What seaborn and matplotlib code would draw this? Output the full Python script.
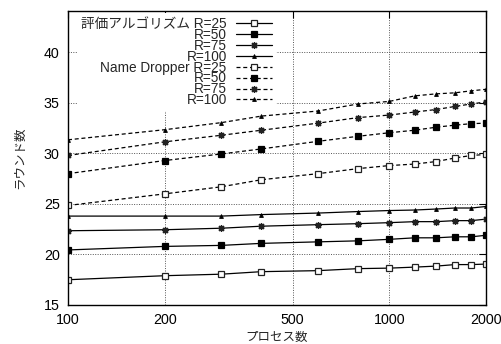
import numpy as np
import pandas as pd
import matplotlib
matplotlib.use("Agg")
import matplotlib.pyplot as plt
import seaborn as sns

processes = [100, 200, 300, 400, 600, 800, 1000, 1200, 1400, 1600, 1800, 2000]

eval_r25 = [17.5, 17.9, 18.05, 18.3, 18.4, 18.6, 18.65, 18.75, 18.85, 19.0, 19.0, 19.05]
eval_r50 = [20.45, 20.8, 20.9, 21.1, 21.25, 21.35, 21.5, 21.65, 21.65, 21.75, 21.75, 21.9]
eval_r75 = [22.35, 22.45, 22.6, 22.8, 22.95, 23.05, 23.15, 23.25, 23.25, 23.35, 23.35, 23.5]
eval_r100 = [23.8, 23.8, 23.8, 23.95, 24.1, 24.25, 24.35, 24.4, 24.5, 24.6, 24.6, 24.75]

nd_r25 = [24.85, 26.0, 26.7, 27.4, 28.0, 28.5, 28.8, 28.95, 29.2, 29.55, 29.8, 29.9]
nd_r50 = [28.0, 29.3, 29.95, 30.45, 31.2, 31.7, 32.05, 32.3, 32.6, 32.8, 32.95, 33.0]
nd_r75 = [29.8, 31.15, 31.8, 32.3, 33.0, 33.55, 33.8, 34.1, 34.35, 34.65, 34.9, 35.1]
nd_r100 = [31.35, 32.35, 33.05, 33.7, 34.2, 34.9, 35.15, 35.7, 35.9, 36.0, 36.2, 36.35]

series_labels = ["評価アルゴリズム R=25", "R=50", "R=75", "R=100",
                 "Name Dropper R=25", "R=50", "R=75", "R=100"]
series_values = [eval_r25, eval_r50, eval_r75, eval_r100,
                 nd_r25, nd_r50, nd_r75, nd_r100]

xticks = [100, 200, 500, 1000, 2000]
yticks = [15, 20, 25, 30, 35, 40]
xlabel = "プロセス数"
ylabel = "ラウンド数"

sns.set_theme(style="white")
plt.rcParams['font.family'] = ['Liberation Sans', 'Noto Sans CJK JP', 'DejaVu Sans']

fig = plt.figure(figsize=(5.01, 3.44), dpi=100)
ax = fig.add_axes([68 / 501, 1 - 305 / 344, (486 - 68) / 501, (305 - 11) / 344])

marker_styles = [
    dict(marker="s", markerfacecolor="white", markeredgecolor="#222222", markersize=4.8, markeredgewidth=0.9),
    dict(marker="s", markerfacecolor="black", markeredgecolor="black", markersize=4.6, markeredgewidth=0.9),
    dict(marker=(8, 2, 0), markerfacecolor="black", markeredgecolor="#222222", markersize=5, markeredgewidth=0.9),
    dict(marker="^", markerfacecolor="black", markeredgecolor="black", markersize=2.8, markeredgewidth=0.6),
]

handles = []
for i, (lab, vals) in enumerate(zip(series_labels, series_values)):
    df = pd.DataFrame({"x": processes, "y": vals})
    dashed = i >= 4
    sns.lineplot(data=df, x="x", y="y", ax=ax, color="black", linewidth=0.9,
                 legend=False, **marker_styles[i % 4])
    line = ax.lines[-1]
    if dashed:
        line.set_dashes((3.2, 2.2))
    handles.append(line)

ax.set_xscale("log")
ax.set_xlim(100, 2000)
ax.set_ylim(15, 44.1)
ax.set_xticks(xticks)
ax.set_xticklabels([str(t) for t in xticks])
ax.xaxis.set_minor_locator(matplotlib.ticker.NullLocator())
ax.set_yticks(yticks)
ax.set_yticklabels([str(t) for t in yticks])

ax.grid(True, which="major", color="#555555", linestyle=(0, (1, 1.5)), linewidth=0.7)
ax.tick_params(axis="both", direction="in", length=5, width=0.8, colors="black",
               labelsize=10.3, top=True, right=True, pad=6)
for s in ax.spines.values():
    s.set_color("black")
    s.set_linewidth(1.0)

ax.set_xlabel(xlabel, fontsize=9, labelpad=3)
ax.set_ylabel(ylabel, fontsize=9, labelpad=13)

leg = ax.legend(handles, series_labels, loc="upper left",
                bbox_to_anchor=(9 / 418, 1 - 2 / 294),
                markerfirst=False, frameon=True, fontsize=9.8, handlelength=2.65,
                labelspacing=-0.23, handletextpad=0.7, borderpad=0.3, borderaxespad=0.0)
leg.get_frame().set_facecolor("white")
leg.get_frame().set_edgecolor("none")
leg.get_frame().set_alpha(1.0)

fig.savefig("out.png", dpi=100)
